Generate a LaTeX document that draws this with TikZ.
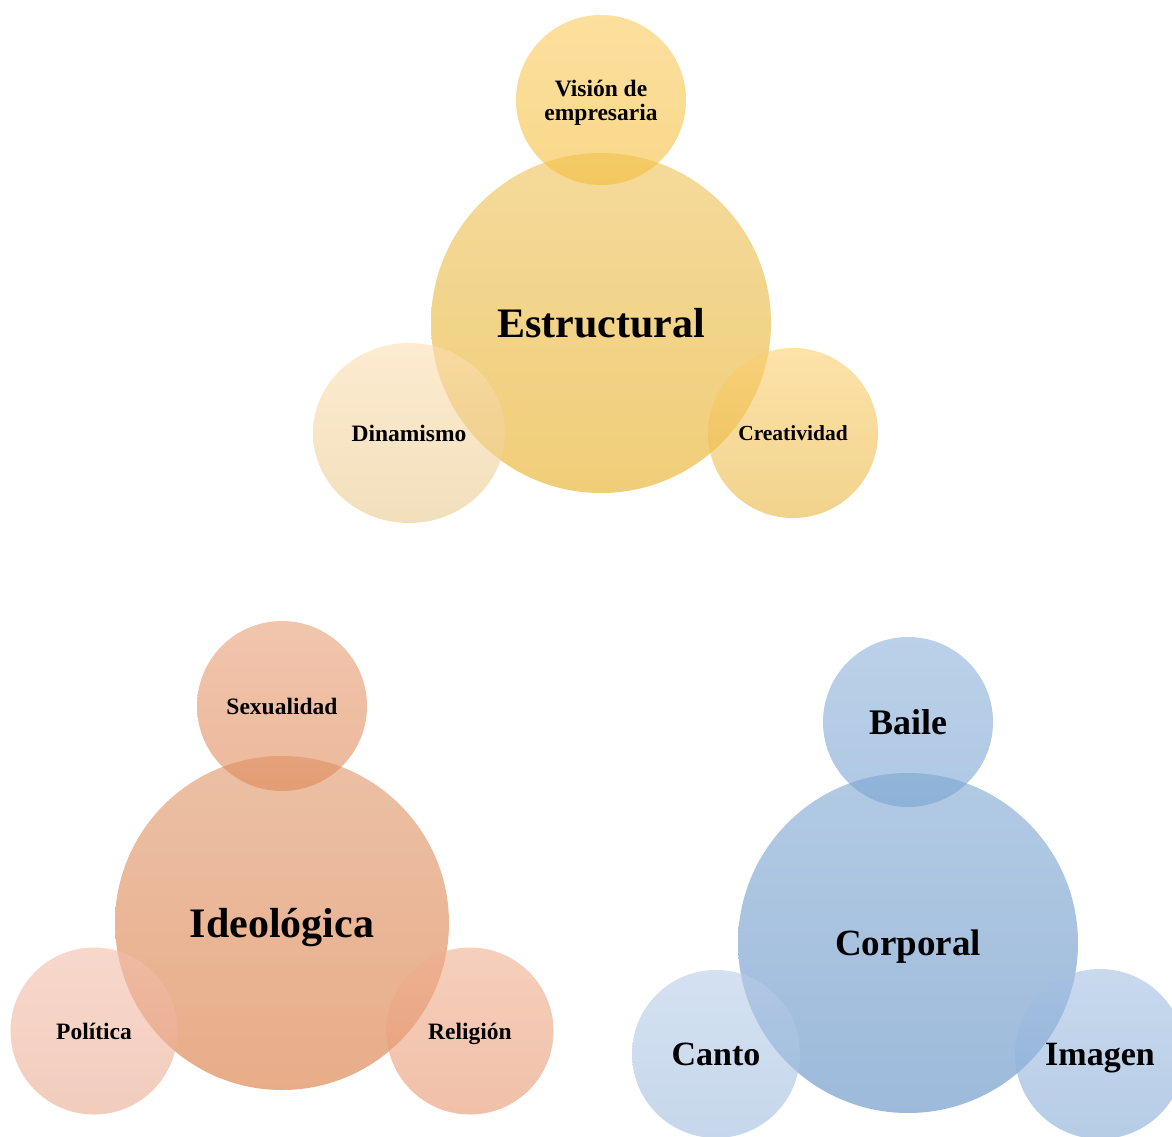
\documentclass[tikz,border=0pt]{standalone}
\usepackage{fontspec}
\setmainfont{Liberation Serif}
\usetikzlibrary{shapes.geometric}

% translucent bubbles, shaded from top to bottom
\definecolor{estT}{RGB}{237,193,87}   \definecolor{estB}{RGB}{230,173,30}
\definecolor{visT}{RGB}{252,202,93}   \definecolor{visB}{RGB}{243,190,60}
\definecolor{dinT}{RGB}{253,222,177}  \definecolor{dinB}{RGB}{232,202,143}
\definecolor{creT}{RGB}{252,207,113}  \definecolor{creB}{RGB}{232,182,63}
\definecolor{ideT}{RGB}{223,150,105}  \definecolor{ideB}{RGB}{217,117,57}
\definecolor{sexT}{RGB}{232,158,118}  \definecolor{sexB}{RGB}{223,137,87}
\definecolor{polT}{RGB}{243,190,170}  \definecolor{polB}{RGB}{233,170,145}
\definecolor{relT}{RGB}{240,175,145}  \definecolor{relB}{RGB}{230,150,110}
\definecolor{corT}{RGB}{127,167,210}  \definecolor{corB}{RGB}{92,140,195}
\definecolor{baiT}{RGB}{142,178,217}  \definecolor{baiB}{RGB}{120,163,210}
\definecolor{canT}{RGB}{183,205,232}  \definecolor{canB}{RGB}{160,188,222}
\definecolor{imaT}{RGB}{165,192,227}  \definecolor{imaB}{RGB}{133,170,213}

\tikzset{
  bubble/.style={circle, inner sep=0pt, minimum size=#1, fill opacity=0.6,
    text opacity=1, align=center, text depth=0pt, font=\bfseries},
  oval/.style={ellipse, inner sep=0pt, fill opacity=0.6,
    text opacity=1, align=center, text depth=0pt, font=\bfseries},
  shadecol/.style 2 args={top color=#1, bottom color=#2},
  bigtext/.style={font=\bfseries\fontsize{42}{44}\selectfont},
  midtext/.style={font=\bfseries\fontsize{36}{38}\selectfont},
  smalltext/.style={font=\bfseries\fontsize{23.5}{24}\selectfont},
}

\begin{document}
\begin{tikzpicture}[x=1pt,y=-1pt]
\useasboundingbox (0,0) rectangle (1172,1136);

% Estructural group
\node[bubble=340pt, shadecol={estT}{estB}, bigtext] (est) at (601,323) {Estructural};
\node[bubble=170pt, shadecol={visT}{visB}, smalltext] (vis) at (601,100) {Visión de\\empresaria};
\node[oval, minimum width=192pt, minimum height=180pt, shadecol={dinT}{dinB}, smalltext] (din) at (409,433) {Dinamismo};
\node[bubble=170pt, shadecol={creT}{creB}, font=\bfseries\fontsize{21.5}{23}\selectfont] (cre) at (793,433) {Creatividad};

% Ideológica group
\node[bubble=334pt, shadecol={ideT}{ideB}, bigtext] (ide) at (282,923) {Ideológica};
\node[bubble=170pt, shadecol={sexT}{sexB}, smalltext] (sex) at (282,706) {Sexualidad};
\node[bubble=167pt, shadecol={polT}{polB}, smalltext] (pol) at (94,1031) {Política};
\node[bubble=167pt, shadecol={relT}{relB}, smalltext] (rel) at (470,1031) {Religión};

% Corporal group
\node[bubble=340pt, shadecol={corT}{corB}, font=\bfseries\fontsize{37}{39}\selectfont] (cor) at (908,943) {Corporal};
\node[bubble=170pt, shadecol={baiT}{baiB}, midtext] (bai) at (908,722) {Baile};
\node[bubble=168pt, shadecol={canT}{canB}, font=\bfseries\fontsize{34}{36}\selectfont] (can) at (716,1054) {Canto};
\node[bubble=170pt, shadecol={imaT}{imaB}, font=\bfseries\fontsize{34}{36}\selectfont] (ima) at (1100,1054) {Imagen};
\end{tikzpicture}
\end{document}
